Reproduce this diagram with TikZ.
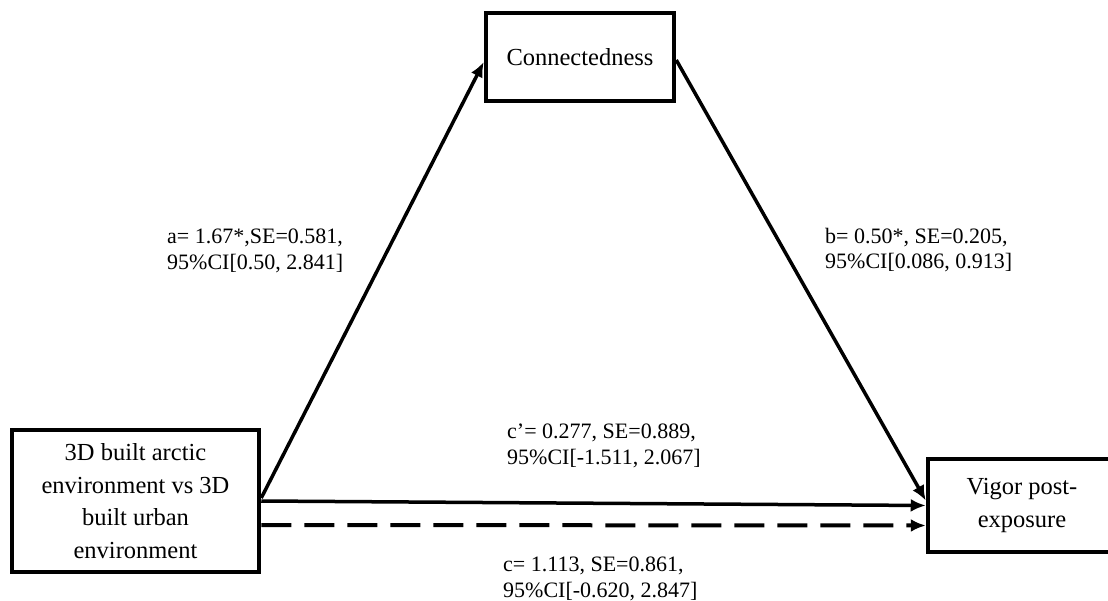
\documentclass[tikz,border=0pt]{standalone}
\usepackage{fontspec}
\setmainfont{Liberation Serif}
\usetikzlibrary{arrows.meta}
\tikzset{
  box/.style={draw, line width=4.5pt, inner sep=0pt, align=center,
    font=\fontsize{24.5}{32.5}\selectfont},
  lbl/.style={anchor=north west, inner sep=0pt, align=left,
    font=\fontsize{22}{25.5}\selectfont},
  arr/.style={line width=3.5pt, -{Latex[length=15pt,width=13pt]}},
}
\begin{document}
\begin{tikzpicture}[x=1pt,y=-1pt]
\useasboundingbox (0,0) rectangle (1108,601);
\clip (0,0) rectangle (1108,601);
\node[box, minimum width=247pt, minimum height=142pt] (X) at (135.5,501)
  {3D built arctic\\environment vs 3D\\built urban\\environment};
\node[box, minimum width=188pt, minimum height=88pt] (M) at (580,57)
  {Connectedness};
\node[box, minimum width=188pt, minimum height=93pt] (Y) at (1022,505.5)
  {Vigor post-\\exposure};
\draw[arr] ([yshift=3pt]X.east) -- ([yshift=-5pt]M.west);
\draw[arr] ([yshift=-3pt]M.east) -- ([yshift=5pt]Y.west);
\draw[arr] (X.east) -- (Y.west);
\draw[arr, dash pattern=on 30pt off 13pt, line width=4pt] ([yshift=-24pt]X.east) -- ([yshift=-20pt]Y.west);
\node[lbl] (la) at (167,229) {a= 1.67*,SE=0.581,\\95\%CI[0.50, 2.841]};
\node[lbl] (lb) at (825,228) {b= 0.50*, SE=0.205,\\95\%CI[0.086, 0.913]};
\node[lbl] (lcp) at (507,424) {c’= 0.277, SE=0.889,\\95\%CI[-1.511, 2.067]};
\node[lbl] (lc) at (503,557) {c= 1.113, SE=0.861,\\95\%CI[-0.620, 2.847]};
\end{tikzpicture}
\end{document}
